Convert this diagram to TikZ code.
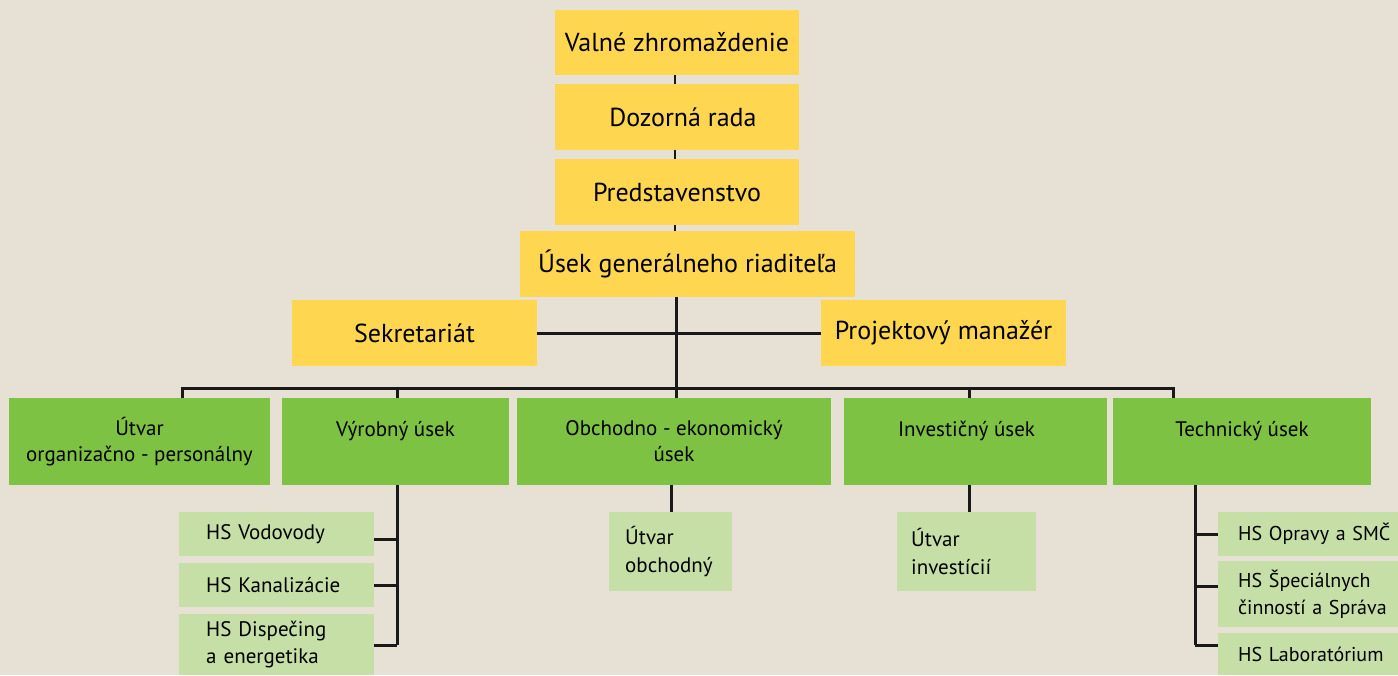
\documentclass[tikz,border=0pt]{standalone}
\usepackage{fontspec}
\setmainfont{PT Sans}
\definecolor{bg}{HTML}{E6E0D5}
\definecolor{ylw}{HTML}{FFD64F}
\definecolor{grn}{HTML}{7DC243}
\definecolor{lgrn}{HTML}{C5DFA6}
\begin{document}
\begin{tikzpicture}[x=1pt,y=-1pt,
  ybox/.style={fill=ylw, inner sep=0pt, align=center, font=\fontsize{26}{30}\selectfont},
  gbox/.style={fill=grn, inner sep=0pt, align=center, minimum height=87pt, font=\fontsize{21}{26}\selectfont},
  sbox/.style={fill=lgrn, inner ysep=0pt, align=left, anchor=north west, font=\fontsize{21}{27.5}\selectfont},
  rbox/.style={sbox, inner xsep=20pt, text width=180pt, font=\fontsize{20}{27.5}\selectfont},
  conn/.style={draw=black!90, line width=3pt},
  thinconn/.style={draw=black!90, line width=2.5pt}]
\fill[bg] (0,0) rectangle (1398,675);
\useasboundingbox (0,0) rectangle (1398,675);
% yellow boxes
\node[ybox, minimum width=244pt, minimum height=65pt] (vz) at (677,42.5) {Valné zhromaždenie};
\node[ybox, minimum width=244pt, minimum height=66pt] (dr) at (677,117) {\hspace*{12pt}Dozorná rada};
\node[ybox, minimum width=244pt, minimum height=66pt] (pr) at (677,192) {Predstavenstvo};
\node[ybox, minimum width=335pt, minimum height=66pt] (ug) at (687.5,264) {Úsek generálneho riaditeľa};
\node[ybox, minimum width=245pt, minimum height=66pt] (sk) at (414.5,333) {Sekretariát};
\node[ybox, minimum width=245pt, minimum height=66pt] (pm) at (943.5,333) {Projektový manažér};
% green boxes
\node[gbox, minimum width=261pt] (uo) at (139.5,441.5) {Útvar\\organizačno - personálny};
\node[gbox, minimum width=227pt] (vy) at (395.5,441.5) {Výrobný úsek\\[-8pt]\strut};
\node[gbox, minimum width=314pt] (oe) at (674,441.5) {Obchodno - ekonomický\\úsek};
\node[gbox, minimum width=263pt] (iu) at (975.5,441.5) {\hspace*{-18pt}Investičný úsek\\[-8pt]\strut};
\node[gbox, minimum width=258pt] (tu) at (1242,441.5) {Technický úsek\\[-8pt]\strut};
% light green boxes
\node[sbox, minimum height=44pt, inner xsep=27pt, text width=141pt] (hv) at (179,512) {HS Vodovody};
\node[sbox, minimum height=44pt, inner xsep=27pt, text width=141pt] (hk) at (179,563) {HS Kanalizácie};
\node[sbox, minimum height=61pt, inner xsep=27pt, text width=141pt] (hd) at (179,614) {HS Dispečing\\a energetika};
\node[sbox, minimum height=79pt, inner xsep=16pt, text width=91pt] (uob) at (609,512) {Útvar\\obchodný};
\node[sbox, minimum height=79pt, inner xsep=14pt, text width=111pt] (uin) at (897,512) {Útvar\\investícií};
\node[rbox, minimum height=44pt] (ho) at (1218,512) {HS Opravy a SMČ};
\node[rbox, minimum height=66pt] (hs) at (1218,561) {HS Špeciálnych\\činností a Správa};
\node[rbox, minimum height=42pt] (hl) at (1218,633) {HS Laboratórium};
% connectors
\coordinate (top) at (675,0);
\coordinate (busL) at (182,388);
\coordinate (busR) at (1173,388);
\coordinate (busC) at (676,388);
\coordinate (bVy) at (397,388);
\coordinate (bIu) at (969,388);
\coordinate (vyEnd) at (397,645);
\coordinate (tuTop) at (1195,485);
\coordinate (tuEnd) at (1195,645);
\draw[thinconn] (top |- vz.south) -- (top |- dr.north);
\draw[thinconn] (top |- dr.south) -- (top |- pr.north);
\draw[thinconn] (top |- pr.south) -- (top |- ug.north);
\draw[conn] (sk.east) -- (pm.west);
\draw[conn] (busC |- ug.south) -- (busC);
\draw[conn] (busL |- uo.north) -- (busL) -- (busR) -- (busR |- tu.north);
\draw[conn] (bVy) -- (bVy |- vy.north);
\draw[conn] (busC) -- (busC |- oe.north);
\draw[conn] (bIu) -- (bIu |- iu.north);
\draw[conn] (vyEnd |- vy.south) -- (vyEnd);
\draw[conn] (hv.east |- 0,539) -- (vyEnd |- 0,539);
\draw[conn] (hk.east) -- (vyEnd |- hk.east);
\draw[conn] (hd.east |- vyEnd) -- (vyEnd);
\draw[conn] (671,485) -- (uob.north -| 671,0);
\draw[conn] (969,485) -- (uin.north -| 969,0);
\draw[conn] (tuTop) -- (tuEnd);
\draw[conn] (tuTop |- ho.west) -- (ho.west);
\draw[conn] (tuTop |- 0,586) -- (hs.west |- 0,586);
\draw[conn] (tuEnd) -- (hl.west |- tuEnd);
\end{tikzpicture}
\end{document}
